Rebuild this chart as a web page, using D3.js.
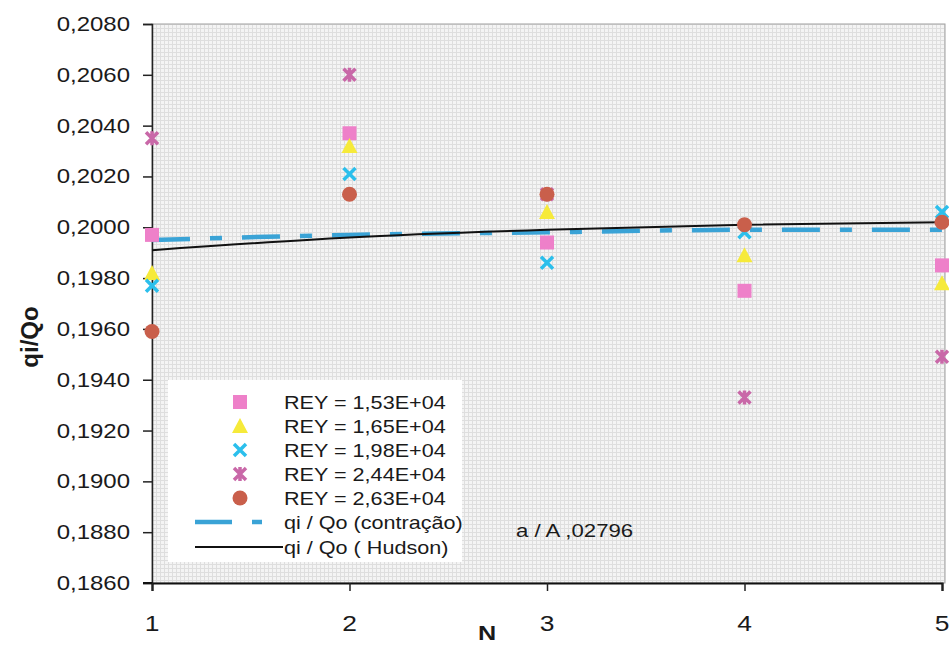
<!DOCTYPE html>
<html><head><meta charset="utf-8">
<script src="https://cdn.jsdelivr.net/npm/d3@7"></script>
<style>body{margin:0;background:#fff}svg{display:block}</style>
</head><body>
<svg id="c" width="949" height="645"></svg>
<script>
// ---- data ----
const N = [1, 2, 3, 4, 5];
const rey153 = [0.1997, 0.2037, 0.1994, 0.1975, 0.1985];
const rey165 = [0.1982, 0.2032, 0.2006, 0.1989, 0.1978];
const rey198 = [0.1977, 0.2021, 0.1986, 0.1998, 0.2006];
const rey244 = [0.2035, 0.2060, 0.2013, 0.1933, 0.1949];
const rey263 = [0.1959, 0.2013, 0.2013, 0.2001, 0.2002];
const contracao = [0.1995, 0.1997, 0.1998, 0.1999, 0.1999];
const hudson = [0.1991, 0.1996, 0.1999, 0.2001, 0.2002];
const yTicks = [0.1860,0.1880,0.1900,0.1920,0.1940,0.1960,0.1980,0.2000,0.2020,0.2040,0.2060,0.2080];
const seriesNames = ["REY = 1,53E+04","REY = 1,65E+04","REY = 1,98E+04","REY = 2,44E+04","REY = 2,63E+04"];
const lineNames = ["qi / Qo (contração)", "qi / Qo ( Hudson)"];
const note = "a / A ,02796";

const svg = d3.select("#c");
const FONT = "'Liberation Sans', Arial, sans-serif";
const SX = 1.2;
const L = 152, R = 942, T = 24, B = 583;
const x = d3.scaleLinear().domain([1, 5]).range([L, R]);
const y = d3.scaleLinear().domain([0.1860, 0.2080]).range([B, T]);

// pattern background
const defs = svg.append("defs");
const pat = defs.append("pattern").attr("id","grid").attr("width",4).attr("height",4).attr("patternUnits","userSpaceOnUse");
pat.append("rect").attr("width",4).attr("height",4).attr("fill","#f4f4f4");
pat.append("path").attr("d","M0 0.5H4M0.5 0V4").attr("stroke","#dedede").attr("stroke-width",1);
svg.append("rect").attr("x",L).attr("y",T).attr("width",R+3-L).attr("height",B-T).attr("fill","url(#grid)")
  .attr("stroke","#a0a0a0").attr("stroke-width",1);

function stext(g, px, py, str, size, anchor, weight) {
  const gg = g.append("g").attr("transform", `translate(${px},${py}) scale(${SX},1)`);
  return gg.append("text").attr("x",0).attr("y",0).attr("font-family",FONT).attr("font-size",size)
    .attr("text-anchor",anchor||"start").attr("font-weight",weight||"normal").attr("fill","#1a1a1a").text(str);
}

// axes
const yAxis = d3.axisLeft(y).tickValues(yTicks).tickSize(9).tickFormat("");
svg.append("g").attr("transform",`translate(${L},0)`).call(yAxis)
  .call(g => g.selectAll("line,path").attr("stroke","#222").attr("stroke-width",1.5));
const xAxis = d3.axisBottom(x).tickValues(N).tickSize(8).tickFormat("");
svg.append("g").attr("transform",`translate(0,${B})`).call(xAxis)
  .call(g => g.selectAll("line").attr("stroke","#222").attr("stroke-width",1.5))
  .call(g => g.select("path").attr("stroke","#111").attr("stroke-width",2.2));
svg.append("line").attr("x1",L-9).attr("x2",L).attr("y1",B).attr("y2",B).attr("stroke","#111").attr("stroke-width",2);

const fmt = d3.format(".4f");
yTicks.forEach(v => stext(svg, 130, y(v) + 7, fmt(v).replace(".", ","), 20, "end"));
N.forEach(v => stext(svg, x(v), 631, String(v), 22, "middle"));
stext(svg, 487, 640, "N", 21, "middle", "bold");
svg.append("text").attr("transform","translate(38,337) rotate(-90)").attr("text-anchor","middle")
  .attr("font-family",FONT).attr("font-size",24).attr("font-weight","bold").attr("fill","#1a1a1a").text("qi/Qo");

// lines
const line = d3.line().x((d,i) => x(N[i])).y(d => y(d)).curve(d3.curveMonotoneX);
svg.append("path").datum(contracao).attr("d", line).attr("fill","none").attr("stroke","#3aa3d6")
  .attr("stroke-width",4.5).attr("stroke-dasharray","38,20,12,20");
svg.append("path").datum(hudson).attr("d", line).attr("fill","none").attr("stroke","#111").attr("stroke-width",2);

// markers
const colors = ["#ee80c9", "#f6ea3a", "#2bbfec", "#c968a8", "#c95f4b"];
function marker(g, type, cx, cy) {
  const c = colors[type];
  if (type === 0) g.append("rect").attr("x",cx-7).attr("y",cy-7).attr("width",14).attr("height",14).attr("fill",c);
  else if (type === 1) g.append("path").attr("d",`M${cx},${cy-8}L${cx+8},${cy+7}L${cx-8},${cy+7}Z`).attr("fill",c);
  else if (type === 2) g.append("path").attr("d",`M${cx-6},${cy-6}L${cx+6},${cy+6}M${cx+6},${cy-6}L${cx-6},${cy+6}`)
      .attr("stroke",c).attr("stroke-width",3.5).attr("fill","none");
  else if (type === 3) g.append("path").attr("d",`M${cx-6},${cy-6}L${cx+6},${cy+6}M${cx+6},${cy-6}L${cx-6},${cy+6}M${cx},${cy-7}L${cx},${cy+7}`)
      .attr("stroke",c).attr("stroke-width",3.5).attr("fill","none");
  else g.append("circle").attr("cx",cx).attr("cy",cy).attr("r",7.5).attr("fill",c);
}
const allSeries = [rey153, rey165, rey198, rey244, rey263];
const mg = svg.append("g");
allSeries.forEach((s, k) => s.forEach((v, i) => marker(mg, k, x(N[i]), y(v))));

// legend
const lg = svg.append("g");
lg.append("rect").attr("x",168).attr("y",380).attr("width",294).attr("height",182).attr("fill","#fff");
const rowY = [402, 426, 450, 474, 498, 522, 547];
seriesNames.forEach((nm, k) => {
  marker(lg, k, 240, rowY[k]);
  stext(lg, 284, rowY[k] + 7, nm, 18, "start");
});
lg.append("line").attr("x1",195).attr("x2",232).attr("y1",rowY[5]).attr("y2",rowY[5]).attr("stroke","#3aa3d6").attr("stroke-width",4.5);
lg.append("line").attr("x1",252).attr("x2",262).attr("y1",rowY[5]).attr("y2",rowY[5]).attr("stroke","#3aa3d6").attr("stroke-width",4.5);
stext(lg, 284, rowY[5] + 7, lineNames[0], 18, "start");
lg.append("line").attr("x1",195).attr("x2",283).attr("y1",rowY[6]).attr("y2",rowY[6]).attr("stroke","#111").attr("stroke-width",2);
stext(lg, 284, rowY[6] + 7, lineNames[1], 18, "start");

stext(svg, 516, 537, note, 18.5, "start");
</script>
</body></html>
